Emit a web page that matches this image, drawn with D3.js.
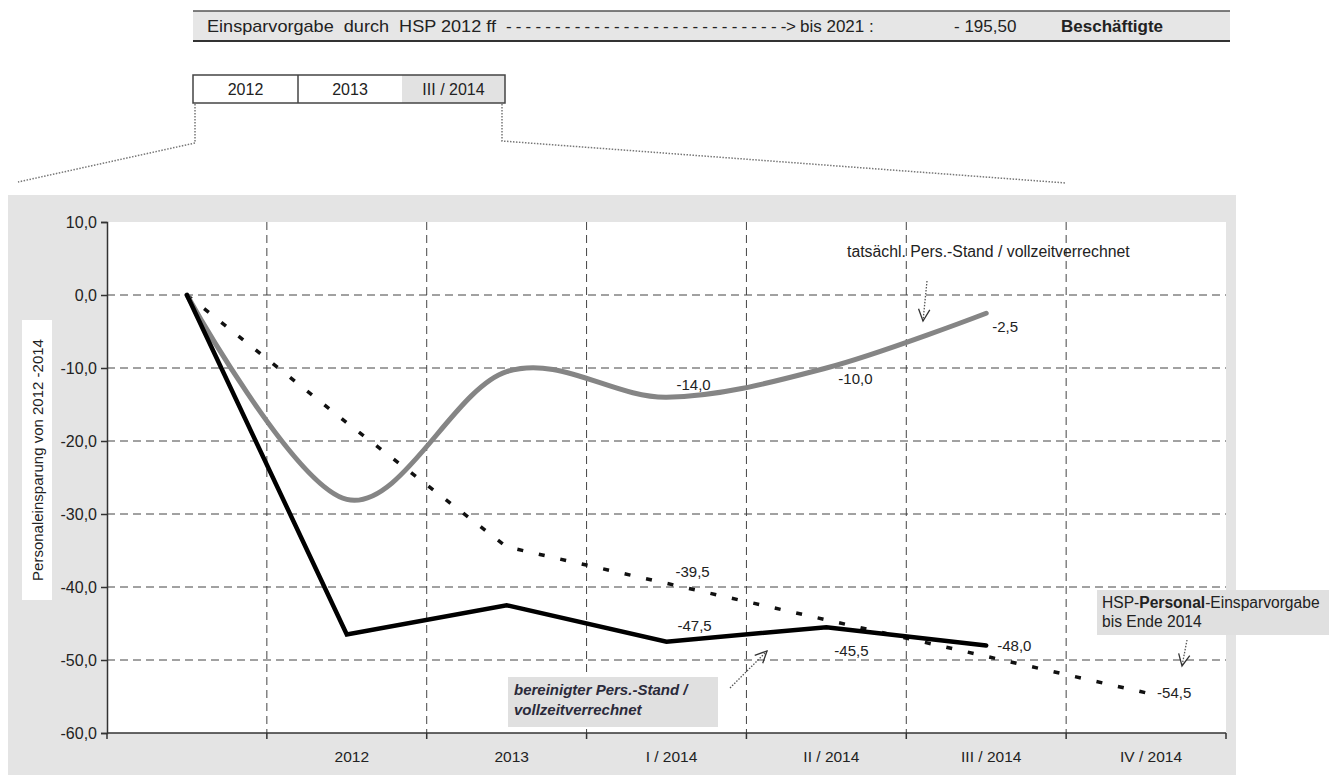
<!DOCTYPE html>
<html>
<head>
<meta charset="utf-8">
<script src="https://cdn.jsdelivr.net/npm/d3@7"></script>
<style>
  html, body { margin: 0; padding: 0; background: #fff; }
  svg { display: block; font-family: "Liberation Sans", Arial, sans-serif; }
</style>
</head>
<body>
<svg id="chart" width="1329" height="775"></svg>
<script>
// Periods on the category axis (first slot is the 2012 starting point)
const categories = ["", "2012", "2013", "I / 2014", "II / 2014", "III / 2014", "IV / 2014"];
// actual staff level, full-time equivalent (grey, smoothed)
const actualValues = [0, -28.0, -10.5, -14.0, -10.0, -2.5];
// adjusted staff level, full-time equivalent (black)
const adjustedValues = [0, -46.5, -42.5, -47.5, -45.5, -48.0];
// HSP staff savings target until end of 2014 (dashed)
const targetValues = [0, -17.5, -34.5, -39.5, -44.5, -49.5, -54.5];
// value ticks
const yTicks = [10, 0, -10, -20, -30, -40, -50, -60];
const gridValues = [0, -10, -20, -30, -40, -50];
// which points carry a value label
const actualLabelIdx = [3, 4, 5];
const adjustedLabelIdx = [3, 4, 5];
const targetLabelIdx = [3, 6];
// header texts
const headerLead = "Einsparvorgabe  durch  HSP 2012 ff";
const headerDashes = "- - - - - - - - - - - - - - - - - - - - - - - - - - - - ->";
const headerUntil = "bis 2021 :";
const headerValue = "- 195,50";
const headerUnit = "Beschäftigte";
const periodBoxes = ["2012", "2013", "III / 2014"];

const svg = d3.select("#chart");
const de = d3.formatLocale({decimal: ",", thousands: ".", grouping: [3], currency: ["", " €"], minus: "-"});
const fmt = de.format(".1f");

const FONT = "'Liberation Sans', Arial, sans-serif";

// ---- header bar ----
const hdr = svg.append("g").attr("font-size", 17).attr("fill", "#222");
hdr.append("rect").attr("x", 193).attr("y", 11).attr("width", 1037).attr("height", 30).attr("fill", "#e6e6e6");
hdr.append("line").attr("x1", 193).attr("x2", 1230).attr("y1", 11).attr("y2", 11).attr("stroke", "#555").attr("stroke-width", 1.5);
hdr.append("line").attr("x1", 193).attr("x2", 1230).attr("y1", 41).attr("y2", 41).attr("stroke", "#333").attr("stroke-width", 2);
hdr.append("text").attr("x", 207).attr("y", 32).style("white-space", "pre")
  .attr("textLength", 289).attr("lengthAdjust", "spacingAndGlyphs").text(headerLead);
hdr.append("text").attr("x", 506).attr("y", 32).style("white-space", "pre")
  .attr("textLength", 290).attr("lengthAdjust", "spacing").text(headerDashes);
hdr.append("text").attr("x", 800).attr("y", 32).text(headerUntil);
hdr.append("text").attr("x", 954).attr("y", 32).style("white-space", "pre").text(headerValue);
hdr.append("text").attr("x", 1061).attr("y", 32).attr("font-weight", "bold").text(headerUnit);

// ---- period boxes ----
const pb = svg.append("g");
const boxEdges = [193, 298, 402, 505];
pb.append("rect").attr("x", 402).attr("y", 75).attr("width", 103).attr("height", 28).attr("fill", "#e2e2e2");
pb.append("rect").attr("x", 193).attr("y", 75).attr("width", 312).attr("height", 28)
  .attr("fill", "none").attr("stroke", "#444").attr("stroke-width", 1.5);
pb.append("line").attr("x1", 298).attr("x2", 298).attr("y1", 75).attr("y2", 103).attr("stroke", "#444").attr("stroke-width", 1.5);
periodBoxes.forEach((t, i) => {
  pb.append("text").attr("x", (boxEdges[i] + boxEdges[i + 1]) / 2).attr("y", 95)
    .attr("text-anchor", "middle").attr("font-size", 16).attr("fill", "#222").text(t);
});
// dotted connectors from the boxes to the chart
pb.append("path").attr("d", "M195,104 L195,143 L18,182")
  .attr("fill", "none").attr("stroke", "#777").attr("stroke-width", 1.5).attr("stroke-dasharray", "1.5,1.5");
pb.append("path").attr("d", "M502,104 L502,141 L1066,183")
  .attr("fill", "none").attr("stroke", "#777").attr("stroke-width", 1.5).attr("stroke-dasharray", "1.5,1.5");

// ---- chart panel ----
svg.append("rect").attr("x", 8).attr("y", 195).attr("width", 1228).attr("height", 580).attr("fill", "#e4e4e4");

const plotLeft = 107, plotRight = 1226, plotTop = 222, plotBottom = 733;
svg.append("rect").attr("x", plotLeft).attr("y", plotTop).attr("width", plotRight - plotLeft)
  .attr("height", plotBottom - plotTop).attr("fill", "#fff");

const x = d3.scaleBand().domain(categories).range([plotLeft, plotRight]).padding(0);
const y = d3.scaleLinear().domain([-60, 10]).range([plotBottom, plotTop]);
const cx = i => x(categories[i]) + x.bandwidth() / 2;

// y-axis title
svg.append("rect").attr("x", 22).attr("y", 320).attr("width", 30).attr("height", 280).attr("fill", "#fff");
svg.append("text").attr("transform", "translate(43,460) rotate(-90)")
  .attr("text-anchor", "middle").attr("font-size", 15).attr("fill", "#222")
  .text("Personaleinsparung von 2012 -2014");

// grid lines
const grid = svg.append("g").attr("stroke", "#444").attr("stroke-width", 1).attr("stroke-dasharray", "8,5");
grid.selectAll("line.h").data(gridValues).join("line").attr("class", "h")
  .attr("x1", plotLeft).attr("x2", plotRight).attr("y1", d => y(d)).attr("y2", d => y(d));
grid.selectAll("line.v").data(categories.slice(1)).join("line").attr("class", "v")
  .attr("x1", d => x(d)).attr("x2", d => x(d)).attr("y1", plotTop).attr("y2", plotBottom);

// y axis
const yAxis = svg.append("g").attr("transform", `translate(${plotLeft},0)`)
  .call(d3.axisLeft(y).tickValues(yTicks).tickFormat(fmt).tickSize(6).tickPadding(4));
yAxis.select(".domain").attr("stroke", "#333").attr("stroke-width", 1.5);
yAxis.selectAll(".tick line").attr("stroke", "#333").attr("stroke-width", 1.5);
yAxis.selectAll(".tick text").attr("font-family", FONT).attr("font-size", 16).attr("fill", "#222");

// x axis: ticks at category boundaries, labels centred in each category
const xEdges = categories.map(c => x(c)).concat([plotRight]);
const xAxisG = svg.append("g");
xAxisG.append("line").attr("x1", plotLeft).attr("x2", plotRight).attr("y1", plotBottom).attr("y2", plotBottom)
  .attr("stroke", "#333").attr("stroke-width", 1.5);
xAxisG.selectAll("line.t").data(xEdges).join("line").attr("class", "t")
  .attr("x1", d => d).attr("x2", d => d).attr("y1", plotBottom).attr("y2", plotBottom + 6)
  .attr("stroke", "#333").attr("stroke-width", 1.5);
xAxisG.selectAll("text").data(categories).join("text")
  .attr("x", (d, i) => cx(i) + 5).attr("y", 762).attr("text-anchor", "middle")
  .attr("font-size", 15.5).attr("fill", "#222").text(d => d);

// series lines
const line = d3.line().x((d, i) => cx(i)).y(d => y(d));
svg.append("path").datum(targetValues).attr("d", line)
  .attr("fill", "none").attr("stroke", "#111").attr("stroke-width", 3.5).attr("stroke-dasharray", "6,16");
svg.append("path").datum(actualValues).attr("d", line.curve(d3.curveCardinal.tension(0)))
  .attr("fill", "none").attr("stroke", "#858585").attr("stroke-width", 5).attr("stroke-linecap", "round");
line.curve(d3.curveLinear);
svg.append("path").datum(adjustedValues).attr("d", line)
  .attr("fill", "none").attr("stroke", "#000").attr("stroke-width", 4.5).attr("stroke-linejoin", "miter").attr("stroke-linecap", "round");

// value labels
function labels(values, idx, offsets) {
  idx.forEach((i, k) => {
    svg.append("text").attr("x", cx(i) + offsets[k][0]).attr("y", y(values[i]) + offsets[k][1])
      .attr("font-size", 15).attr("fill", "#222").text(fmt(values[i]));
  });
}
labels(actualValues, actualLabelIdx, [[10, -7], [12, 16], [6, 19]]);
labels(adjustedValues, adjustedLabelIdx, [[11, -11], [8, 29], [11, 6]]);
labels(targetValues, targetLabelIdx, [[9, -6], [11, 5]]);

// annotations
function arrow(x1, y1, x2, y2) {
  svg.append("line").attr("x1", x1).attr("y1", y1).attr("x2", x2).attr("y2", y2)
    .attr("stroke", "#555").attr("stroke-width", 1.3).attr("stroke-dasharray", "1.5,1.5");
  const a = Math.atan2(y2 - y1, x2 - x1), L = 13, s = 0.45;
  const p1 = [x2 - L * Math.cos(a - s), y2 - L * Math.sin(a - s)];
  const p2 = [x2 - L * Math.cos(a + s), y2 - L * Math.sin(a + s)];
  svg.append("path").attr("d", `M${p1[0]},${p1[1]} L${x2},${y2} L${p2[0]},${p2[1]}`)
    .attr("fill", "none").attr("stroke", "#333").attr("stroke-width", 1.3);
}

svg.append("text").attr("x", 847).attr("y", 257).attr("font-size", 15.8).attr("fill", "#222")
  .text("tatsächl. Pers.-Stand / vollzeitverrechnet");
arrow(927, 281, 923, 321);

svg.append("rect").attr("x", 1097).attr("y", 590).attr("width", 232).attr("height", 45).attr("fill", "#e0e0e0");
const hsp = svg.append("text").attr("x", 1102).attr("y", 608).attr("font-size", 15.6).attr("fill", "#222");
hsp.append("tspan").text("HSP-");
hsp.append("tspan").attr("font-weight", "bold").text("Personal");
hsp.append("tspan").text("-Einsparvorgabe");
svg.append("text").attr("x", 1102).attr("y", 627).attr("font-size", 15.6).attr("fill", "#222").text("bis Ende 2014");
arrow(1187, 640, 1182, 666);

svg.append("rect").attr("x", 508).attr("y", 677).attr("width", 210).attr("height", 50).attr("fill", "#e0e0e0");
svg.append("text").attr("x", 514).attr("y", 695).attr("font-size", 15).attr("font-weight", "bold")
  .attr("font-style", "italic").attr("fill", "#2a2a3a").text("bereinigter Pers.-Stand /");
svg.append("text").attr("x", 514).attr("y", 715).attr("font-size", 15).attr("font-weight", "bold")
  .attr("font-style", "italic").attr("fill", "#2a2a3a").text("vollzeitverrechnet");
arrow(730, 688, 767, 651);
</script>
</body>
</html>
